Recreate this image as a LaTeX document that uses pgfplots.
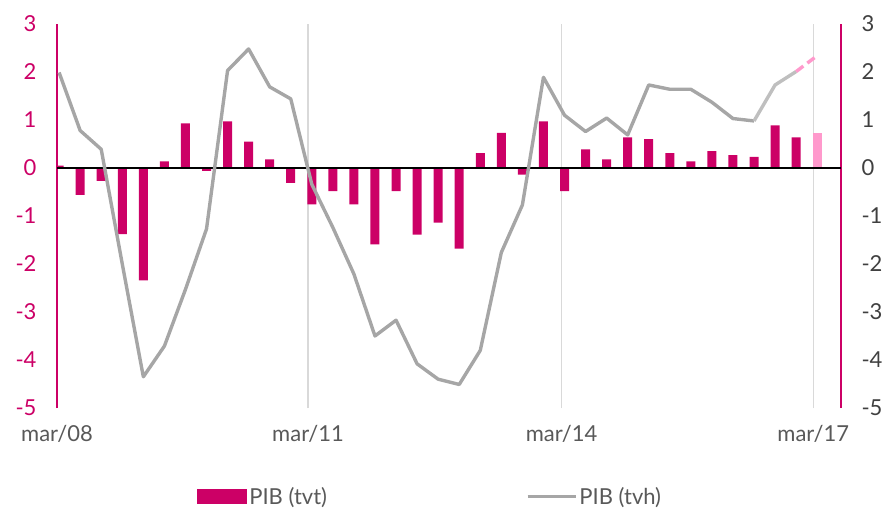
\documentclass[border=0pt]{standalone}
\usepackage{fontspec}
\setmainfont{Lato}
\usepackage{pgfplots}
\usepackage{pgfplotstable}
\pgfplotsset{compat=1.18}
\definecolor{mag}{HTML}{CC0066}
\definecolor{pinkf}{HTML}{FF99CC}
\definecolor{lgray}{HTML}{A6A6A6}
\definecolor{lgraytwo}{HTML}{BFBFBF}
\definecolor{gridc}{HTML}{D9D9D9}
\definecolor{txt}{HTML}{595959}
\definecolor{rtxt}{HTML}{404040}

\pgfplotstableread{
x y
0 0.05
1 -0.56
2 -0.27
3 -1.38
4 -2.34
5 0.14
6 0.93
7 -0.06
8 0.97
9 0.55
10 0.18
11 -0.31
12 -0.76
13 -0.48
14 -0.76
15 -1.59
16 -0.48
17 -1.39
18 -1.14
19 -1.68
20 0.31
21 0.73
22 -0.14
23 0.97
24 -0.48
25 0.39
26 0.18
27 0.64
28 0.60
29 0.31
30 0.14
31 0.35
32 0.27
33 0.23
34 0.89
35 0.64
}\tvt
\pgfplotstableread{
x y
36 0.72
}\tvtf
\pgfplotstableread{
x y
0 1.99
1 0.78
2 0.39
3 -2.00
4 -4.35
5 -3.71
6 -2.53
7 -1.27
8 2.03
9 2.48
10 1.69
11 1.44
12 -0.34
13 -1.24
14 -2.21
15 -3.50
16 -3.17
17 -4.08
18 -4.40
19 -4.51
20 -3.80
21 -1.76
22 -0.77
23 1.89
24 1.10
25 0.76
26 1.04
27 0.69
28 1.73
29 1.64
30 1.64
31 1.37
32 1.03
33 0.98
}\tvh
\pgfplotstableread{
x y
33 0.98
34 1.73
35 2.01
}\tvhb
\pgfplotstableread{
x y
35 2.01
36 2.34
}\tvhf

\begin{document}
\begin{tikzpicture}
\path[use as bounding box] (-57bp,-100bp) rectangle (830bp,408bp);
\pgfplotsset{
  base/.style={
    at={(0,0)}, anchor=south west,
    scale only axis, width=784bp, height=384bp,
    xmin=-0.1, xmax=37.13, ymin=-5, ymax=3,
    axis line style={draw=none},
    tick style={draw=none},
    major tick length=0pt,
    ytick={-5,-4,-3,-2,-1,0,1,2,3},
    yticklabels={-5,-4,-3,-2,-1,0,1,2,3},
    ticklabel style={font=\fontsize{22bp}{26bp}\selectfont},
    clip=true,
  }
}
\begin{axis}[base,
  xtick={-0.1,11.82,23.86,35.81},
  xticklabels={mar/08,mar/11,mar/14,mar/17},
  xmajorgrids,
  major grid style={gridc, line width=1.3bp},
  extra x ticks={-0.1,37.13},
  extra x tick labels={},
  extra x tick style={major grid style={mag, line width=1.8bp}},
  yticklabel style={text=mag, xshift=-17bp},
  xticklabel style={text=txt, yshift=-14bp},
  legend style={at={(axis description cs:0.476,-0.231)}, anchor=center,
    draw=none, fill=none, legend columns=2,
    font=\fontsize{22bp}{26bp}\selectfont, text=txt,
    /tikz/every even column/.append style={column sep=197bp},
    nodes={inner xsep=2bp}},
]
\addplot[ybar, bar width=9bp, fill=mag, draw=none,
  legend image code/.code={\fill[mag] (0bp,-7.5bp) rectangle (50bp,7.5bp);}]
  table[x=x,y=y] {\tvt};
\addlegendentry{PIB (tvt)}
\addplot[ybar, bar width=9bp, fill=pinkf, draw=none, forget plot]
  table[x=x,y=y] {\tvtf};
\addlegendimage{legend image code/.code={\draw[lgray, line width=3.4bp] (0bp,0bp) -- (48bp,0bp);}}
\addlegendentry{PIB (tvh)}
\addplot[black, line width=1.3bp, forget plot] coordinates {(-0.1,0) (37.13,0)};
\end{axis}
\begin{axis}[base,
  xtick=\empty,
  yticklabel pos=right,
  yticklabel style={text=rtxt, xshift=17bp},
]
\addplot[lgray, line width=3.4bp, line join=round] table[x=x,y=y] {\tvh};
\addplot[lgraytwo, line width=3.4bp, line join=round] table[x=x,y=y] {\tvhb};
\addplot[pinkf, line width=3.4bp, dash pattern=on 9bp off 5bp] table[x=x,y=y] {\tvhf};
\end{axis}
\end{tikzpicture}
\end{document}
